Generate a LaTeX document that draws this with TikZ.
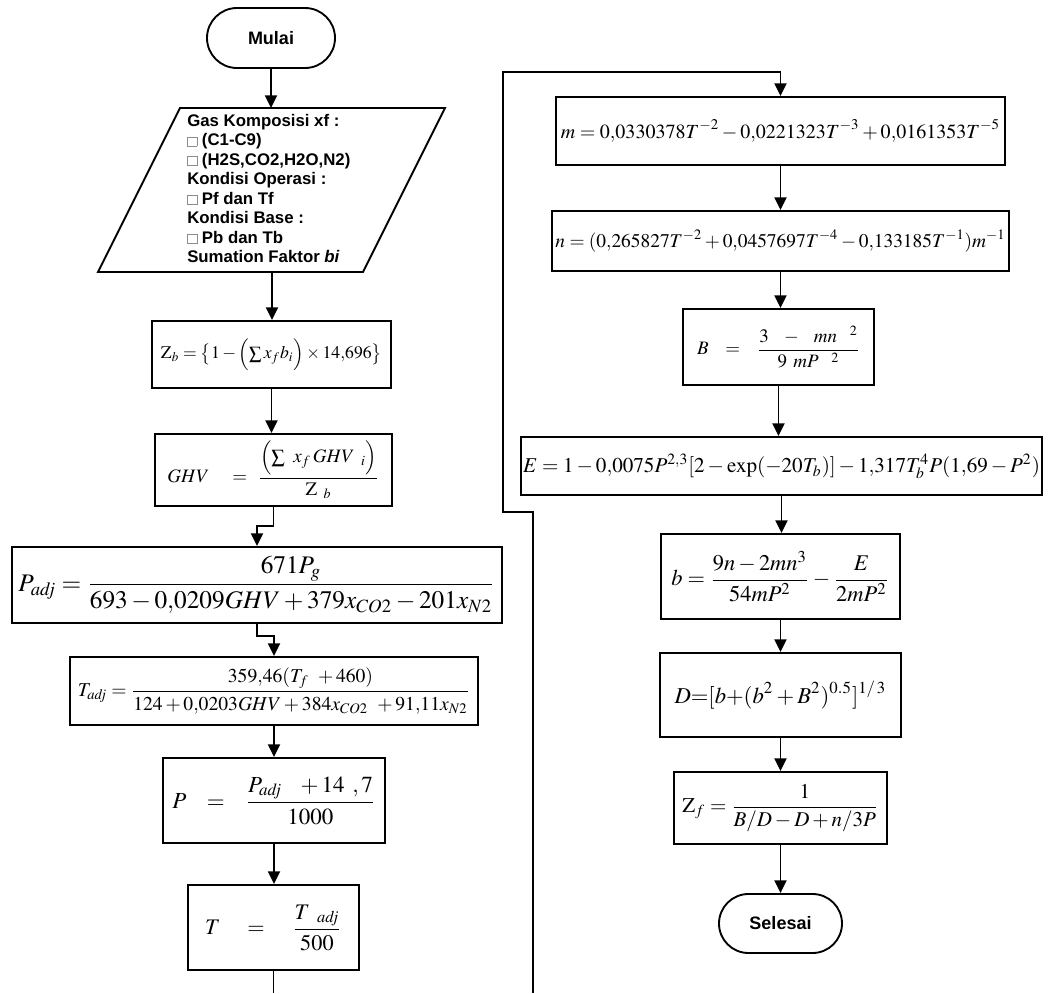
\documentclass[tikz,border=0pt]{standalone}
\usepackage{mathptmx}
\usepackage[no-math]{fontspec}
\newfontfamily\lab{Liberation Sans}
\usetikzlibrary{arrows.meta,shapes.misc}
\newlength\px
\setlength\px{0.75pt}
% formula scaled to a given width (in px)
\newcommand\fx[2]{\resizebox{#1\px}{!}{$\displaystyle #2$}}
% hollow square used as list bullet
\newcommand\hollow{\textcolor{black!45}{\fboxsep=0pt\fboxrule=0.5pt\fbox{\rule{0pt}{6.5pt}\hspace{6.5pt}}}\hspace{3.5pt}}
\newcommand\adj{\mathit{adj}}
\begin{document}
\begin{tikzpicture}[x=0.75pt,y=-0.75pt,
  sz/.style 2 args={minimum width=#1*0.75pt, minimum height=#2*0.75pt},
  proc/.style={draw, line width=1.5pt, inner sep=0pt},
  term/.style={draw, line width=1.4pt, rounded rectangle, inner sep=0pt,
    font=\lab\bfseries\fontsize{13.5}{15}\selectfont},
  flow/.style={line width=1.4pt},
  arr/.style={flow, -{Triangle[length=9.5pt,width=9pt]}},
]
\useasboundingbox (0,0) rectangle (1064,993);

% ---------- left column ----------
\node[term, sz={128}{60}] (mulai) at (271,38) {Mulai};

\coordinate (p1) at (180,108);
\coordinate (p2) at (445,108);
\coordinate (p3) at (363,272);
\coordinate (p4) at (98,272);
\draw[line width=1.4pt] (p1) -- (p2) -- (p3) -- (p4) -- cycle;
\node[anchor=north west, align=left, inner sep=0pt,
  font=\lab\bfseries\fontsize{12.6}{14.6}\selectfont] (inp) at (187,114)
  {Gas Komposisi xf :\\
   \hollow(C1-C9)\\
   \hollow(H2S,CO2,H2O,N2)\\
   Kondisi Operasi :\\
   \hollow Pf dan Tf\\
   Kondisi Base :\\
   \hollow Pb dan Tb\\
   Sumation Faktor \textit{bi}};
\coordinate (intop) at (271,108);
\coordinate (inbot) at (272,272);

\node[proc, sz={239}{67}] (zb) at (271.5,354.5)
  {\fx{221}{\mathrm{Z}_b=\bigl\{1-\Bigl(\textstyle\sum x_f b_i\Bigr)\times 14{,}696\bigr\}}};
\node[proc, sz={237}{72}] (ghv) at (273.5,470)
  {\fx{212}{GHV\quad=\ \frac{\Bigl(\textstyle\sum\ x_f\,GHV\ {}_i\Bigr)}{\mathrm{Z}\ {}_b}}};
\node[proc, sz={490}{76}] (padj) at (257,585)
  {\fx{477}{P_{\adj}=\frac{671P_g}{693-0{,}0209GHV+379x_{CO2}-201x_{N2}}}};
\node[proc, sz={408}{68}] (tadj) at (274,691)
  {\fx{392}{T_{\adj}=\frac{359{,}46(T_f\ +460)}{124+0{,}0203GHV+384x_{CO2}\ +91{,}11x_{N2}}}};
\node[proc, sz={222}{85}] (pp) at (274,800.5)
  {\fx{203}{P\ \ =\ \ \frac{P_{\adj}\ \ +14\ ,7}{1000}}};
\node[proc, sz={171}{85}] (tt) at (273.5,927.5)
  {\fx{137}{T\ \ \ =\ \ \ \frac{T\ {}_{\adj}}{500}}};
\coordinate (tend) at (273.5,993);

% ---------- right column ----------
\node[proc, sz={449}{68}] (mm) at (780.5,131)
  {\fx{439}{m=0{,}0330378T^{-2}-0{,}0221323T^{-3}+0{,}0161353T^{-5}}};
\node[proc, sz={457}{60}] (nn) at (780.5,241)
  {\fx{450}{n=(0{,}265827T^{-2}+0{,}0457697T^{-4}-0{,}133185T^{-1})m^{-1}}};
\node[proc, sz={191}{76}] (bb) at (778.5,347)
  {\fx{163}{B\ \ =\ \ \frac{3\ \ -\ \ mn\ \ {}^{2}}{9\ mP\ \ {}^{2}}}};
\node[proc, sz={521}{58}] (ee) at (781.5,466)
  {\fx{517}{E=1-0{,}0075P^{2,3}[2-\exp(-20T_b)]-1{,}317T_b^4P(1{,}69-P^2)}};
\node[proc, sz={239}{85}] (sb) at (780.5,576.5)
  {\fx{218}{b=\frac{9n-2mn^3}{54mP^2}-\frac{E}{2mP^2}}};
\node[proc, sz={241}{84}] (dd) at (780.5,695)
  {\fx{212}{D{=}[b{+}(b^2+B^2)^{0.5}]^{1/\,3}}};
\node[proc, sz={213}{72}] (zf) at (780.5,808)
  {\fx{196}{\mathrm{Z}_f=\frac{1}{B/D-D+n/3P}}};
\node[term, sz={123}{59}] (selesai) at (780.5,923.5) {Selesai};

% continuation line from the page bottom up and over to the right column
\coordinate (rstart) at (533,993);
\coordinate (j1) at (533,512);
\coordinate (j2) at (503,512);
\coordinate (j3) at (503,72);

% ---------- connectors ----------
\draw[arr] (mulai.south) -- (intop);
\draw[arr] (inbot) -- (inbot |- zb.north);
\draw[arr] (zb.south) -- (zb.south |- ghv.north);
\draw[arr] (ghv.south) -- ++(0,19) -| (padj.north);
\draw[arr] (padj.south) -- ++(0,12) -| (tadj.north);
\draw[arr] (tadj.south) -- (tadj.south |- pp.north);
\draw[arr] (pp.south) -- (pp.south |- tt.north);
\draw[flow] (tt.south) -- (tend);

\draw[arr] (rstart) -- (j1) -- (j2) -- (j3) -| (mm.north);
\draw[arr] (mm.south) -- (mm.south |- nn.north);
\draw[arr] (nn.south) -- (nn.south |- bb.north);
\draw[arr] (bb.south) -- (bb.south |- ee.north);
\draw[arr] (ee.south) -- (ee.south |- sb.north);
\draw[arr] (sb.south) -- (sb.south |- dd.north);
\draw[arr] (dd.south) -- (dd.south |- zf.north);
\draw[arr] (zf.south) -- (zf.south |- selesai.north);
\end{tikzpicture}
\end{document}
